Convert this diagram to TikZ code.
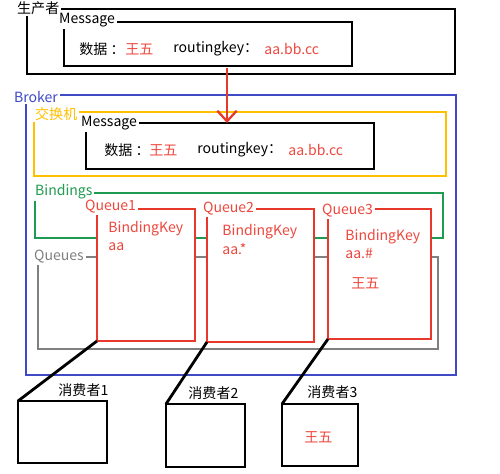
\documentclass[tikz,border=0pt]{standalone}
\usepackage{fontspec}
\setmainfont{Noto Sans CJK SC}
\usetikzlibrary{arrows.meta}
\definecolor{mqred}{RGB}{232,56,44}
\definecolor{txtred}{RGB}{238,72,62}
\definecolor{mqyellow}{RGB}{255,192,0}
\definecolor{mqgreen}{RGB}{30,155,80}
\definecolor{mqblue}{RGB}{62,74,198}
\definecolor{mqgray}{RGB}{128,128,128}
\begin{document}
\begin{tikzpicture}[x=0.02cm, y=-0.02cm, line width=1.6pt,
    font=\fontsize{8}{9.5}\selectfont,
    tag/.style={fill=white, inner sep=1pt, anchor=west},
    txt/.style={inner sep=0pt, anchor=west}]
    \useasboundingbox (0,0) rectangle (500,473);

    % the producer and its message
    \draw (27,9) rectangle (455,74);
    \draw (64,22) rectangle (352,66) coordinate (msgAse);
    \node[tag] (prod) at (14,8) {生产者};
    \node[tag] (msgA) at (56,20) {Message};
    \node[txt] (dataA) at (78,49) {数据 ：};
    \node[txt, text=txtred] (nameA) at (124,49) {王五};
    \node[txt] (keyA) at (172,49) {routingkey：};
    \node[txt, text=txtred] (valA) at (263,49) {aa.bb.cc};

    % the broker, the exchange and the message in it
    \draw[mqblue] (26,95) rectangle (456,375);
    \draw[mqyellow] (34,112) rectangle (446,176);
    \draw (86,123) coordinate (msgBnw) rectangle (374,169);
    \node[tag, text=mqblue] (broker) at (11,97) {Broker};
    \node[tag, text=mqyellow] (exch) at (32,114) {交换机};
    \node[tag] (msgB) at (78,123) {Message};
    \node[txt] (dataB) at (103,150) {数据 ：};
    \node[txt, text=txtred] (nameB) at (148,150) {王五};
    \node[txt] (keyB) at (196,150) {routingkey：};
    \node[txt, text=txtred] (valB) at (287,150) {aa.bb.cc};

    % bindings and queues
    \draw[mqgreen] (35,193) rectangle (443,238);
    \draw[mqgray] (38,257) rectangle (438,349);
    \node[tag, text=mqgreen] (bind) at (32,192) {Bindings};
    \node[tag, text=mqgray] (queues) at (31,257) {Queues};

    \filldraw[mqred, fill=white] (97,209) coordinate (q1nw) rectangle (195,341) coordinate (q1se);
    \filldraw[mqred, fill=white] (207,209) coordinate (q2nw) rectangle (314,342) coordinate (q2se);
    \filldraw[mqred, fill=white] (328,209) coordinate (q3nw) rectangle (431,339) coordinate (q3se);
    \node[tag, text=txtred] (q1) at (82,207) {Queue1};
    \node[tag, text=txtred] (q2) at (200,209) {Queue2};
    \node[tag, text=txtred] (q3) at (319,211) {Queue3};
    \node[txt, text=txtred] (k1) at (107,229) {BindingKey};
    \node[txt, text=txtred] (v1) at (107,247) {aa};
    \node[txt, text=txtred] (k2) at (221,232) {BindingKey};
    \node[txt, text=txtred] (v2) at (221,249) {aa.*};
    \node[txt, text=txtred] (k3) at (344,237) {BindingKey};
    \node[txt, text=txtred] (v3) at (344,253) {aa.\#};
    \node[txt, text=txtred] (n3) at (350,283) {王五};

    % the consumers
    \draw (18,401) coordinate (c1nw) rectangle (107,463);
    \draw (166,404) coordinate (c2nw) rectangle (245,467);
    \draw (282,404) coordinate (c3nw) rectangle (358,466);
    \node[txt] (cons1) at (57,390) {消费者1};
    \node[txt] (cons2) at (187,393) {消费者2};
    \node[txt] (cons3) at (306,392) {消费者3};
    \node[txt, text=txtred] (nameC) at (303,437) {王五};

    % the message goes to the exchange, the queues go to the consumers
    \draw[mqred, line width=1.3pt, -{Straight Barb[length=6pt, width=11pt]}] (msgAse -| msgBnw) ++(141,2) coordinate (arrA)
        -- (arrA |- msgBnw);
    \draw (q1nw |- q1se) -- (c1nw);
    \draw (q2nw |- q2se) -- (c2nw);
    \draw (q3nw |- q3se) -- (c3nw);
\end{tikzpicture}
\end{document}
